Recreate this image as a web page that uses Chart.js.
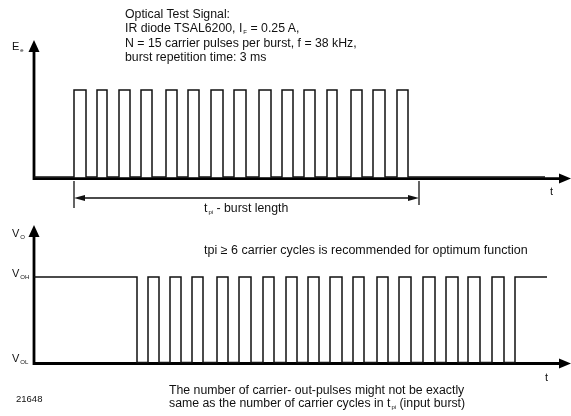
<!DOCTYPE html>
<html>
<head>
<meta charset="utf-8">
<script src="https://cdn.jsdelivr.net/npm/chart.js@4.4.0/dist/chart.umd.min.js"></script>
<style>
body { margin: 0; background: #fff; }
#wrap { position: relative; width: 571px; height: 416px; font-family: "Liberation Sans", Arial, sans-serif; color: #111; overflow: hidden; }
canvas { position: absolute; left: 0; top: 0; }
.lbl { position: absolute; white-space: nowrap; font-size: 11px; line-height: 13px; }
.lbl sub { font-size: 6px; line-height: 0; vertical-align: -2px; margin-left: 1px; }
.big { font-size: 12.3px; line-height: 14.4px; }
.mid { font-size: 12.3px; line-height: 13px; }
</style>
</head>
<body>
<div id="wrap">
  <canvas id="topChart" width="571" height="416"></canvas>
  <canvas id="botChart" width="571" height="416"></canvas>

  <div class="lbl big" style="left:125px; top:6.8px;">Optical Test Signal:<br>IR diode TSAL6200, I<sub>F</sub> = 0.25 A,<br>N = 15 carrier pulses per burst, f = 38 kHz,<br>burst repetition time: 3 ms</div>
  <div class="lbl" style="left:12px; top:39.5px;">E<sub>e</sub></div>
  <div class="lbl" style="left:550px; top:185px;">t</div>
  <div class="lbl mid" style="left:204px; top:201.5px;">t<sub>pi</sub> - burst length</div>

  <div class="lbl" style="left:12px; top:226.5px;">V<sub>O</sub></div>
  <div class="lbl" style="left:12px; top:266.5px;">V<sub>OH</sub></div>
  <div class="lbl" style="left:12px; top:351.5px;">V<sub>OL</sub></div>
  <div class="lbl mid" style="left:204px; top:243.5px; font-size:12.5px;">tpi ≥ 6 carrier cycles is recommended for optimum function</div>
  <div class="lbl" style="left:545px; top:371px;">t</div>
  <div class="lbl mid" style="left:169px; top:384px;">The number of carrier- out-pulses might not be exactly<br>same as the number of carrier cycles in t<sub>pi</sub> (input burst)</div>
  <div class="lbl" style="left:16px; top:391.5px; font-size:9.5px;">21648</div>
</div>

<script>
// time axis (arbitrary units)
const tMax = 536;

// optical input burst: rising / falling edges of the 15 carrier pulses
const eeRise = [40, 63, 85, 107, 132, 154, 177, 200, 225, 248, 270, 293, 317, 339, 363];
const eeFall = [52, 73, 96, 118, 143, 165, 189, 212, 237, 259, 281, 303, 328, 351, 374];
const eeEnd = 511;
const burst = [40, 385];

// output V_O: high, drops at voLowStart, then pulses
const voLowStart = 103;
const voRise = [114, 136, 158, 183, 205, 229, 252, 274, 296, 319, 343, 365, 389, 412, 434, 458, 481];
const voFall = [125, 147, 169, 194, 217, 240, 263, 285, 308, 330, 354, 377, 401, 424, 446, 470];
const voEnd = 513;

function eePoints() {
    const pts = [{ x: 0, y: 0 }];
    eeRise.forEach((r, i) => {
        pts.push({ x: r, y: 0 }, { x: r, y: 1 }, { x: eeFall[i], y: 1 }, { x: eeFall[i], y: 0 });
    });
    pts.push({ x: eeEnd, y: 0 });
    return pts;
}

function voPoints() {
    const pts = [{ x: 0, y: 1 }, { x: voLowStart, y: 1 }, { x: voLowStart, y: 0 }];
    voRise.forEach((r, i) => {
        pts.push({ x: r, y: 0 }, { x: r, y: 1 });
        if (i < voFall.length) pts.push({ x: voFall[i], y: 1 }, { x: voFall[i], y: 0 });
        else pts.push({ x: voEnd, y: 1 });
    });
    return pts;
}

function arrowHead(ctx, x, y, dir, len, half) {
    ctx.beginPath();
    ctx.moveTo(x, y);
    if (dir === 'up') { ctx.lineTo(x - half, y + len); ctx.lineTo(x + half, y + len); }
    if (dir === 'right') { ctx.lineTo(x - len, y - half); ctx.lineTo(x - len, y + half); }
    if (dir === 'left') { ctx.lineTo(x + len, y - half); ctx.lineTo(x + len, y + half); }
    ctx.closePath();
    ctx.fill();
}

// axes with arrow heads
const frame = {
    id: 'frame',
    beforeDatasetsDraw(chart, args, opts) {
        const { ctx, chartArea: a, scales: { x, y } } = chart;
        const x0 = x.getPixelForValue(0);
        const y0 = y.getPixelForValue(0) + opts.shift;
        ctx.save();
        ctx.strokeStyle = '#000';
        ctx.fillStyle = '#000';
        ctx.lineWidth = 2.8;
        ctx.beginPath();
        ctx.moveTo(x0, y0 + 1.4);
        ctx.lineTo(x0, opts.tipY + 10);
        ctx.moveTo(x0 - 1.4, y0);
        ctx.lineTo(a.right - 10, y0);
        ctx.stroke();
        arrowHead(ctx, x0, opts.tipY, 'up', 12, 5.5);
        arrowHead(ctx, a.right + 1, y0, 'right', 12, 5);
        ctx.restore();
    }
};

// t_pi burst length dimension line
const burstMark = {
    id: 'burstMark',
    afterDatasetsDraw(chart) {
        const { ctx, scales: { x, y } } = chart;
        const xa = x.getPixelForValue(burst[0]);
        const xb = x.getPixelForValue(burst[1]);
        const y0 = y.getPixelForValue(0);
        const ya = y0 + 21;
        ctx.save();
        ctx.strokeStyle = '#111';
        ctx.fillStyle = '#111';
        ctx.lineWidth = 1.3;
        ctx.beginPath();
        ctx.moveTo(xa, y0 + 4); ctx.lineTo(xa, y0 + 31);
        ctx.moveTo(xb, y0 + 4); ctx.lineTo(xb, y0 + 28);
        ctx.moveTo(xa + 8, ya); ctx.lineTo(xb - 8, ya);
        ctx.stroke();
        arrowHead(ctx, xa, ya, 'left', 11, 3);
        arrowHead(ctx, xb, ya, 'right', 11, 3);
        ctx.restore();
    }
};

function makeChart(id, points, padTop, padBottom, frameOpts, extra) {
    return new Chart(document.getElementById(id), {
        type: 'scatter',
        data: {
            datasets: [{
                data: points,
                showLine: true,
                borderColor: '#111',
                borderWidth: 1.5,
                borderJoinStyle: 'miter',
                pointRadius: 0,
                clip: false,
                tension: 0
            }]
        },
        options: {
            responsive: false,
            animation: false,
            events: [],
            layout: { padding: { left: 34, right: 1, top: padTop, bottom: padBottom } },
            scales: {
                x: { type: 'linear', display: false, min: 0, max: tMax },
                y: { display: false, min: 0, max: 1 }
            },
            plugins: {
                legend: { display: false },
                tooltip: { enabled: false },
                frame: frameOpts
            }
        },
        plugins: [frame].concat(extra || [])
    });
}

makeChart('topChart', eePoints(), 90, 239, { tipY: 40, shift: 1.6 }, [burstMark]);
makeChart('botChart', voPoints(), 277, 53.5, { tipY: 225, shift: 1 });
</script>
</body>
</html>
